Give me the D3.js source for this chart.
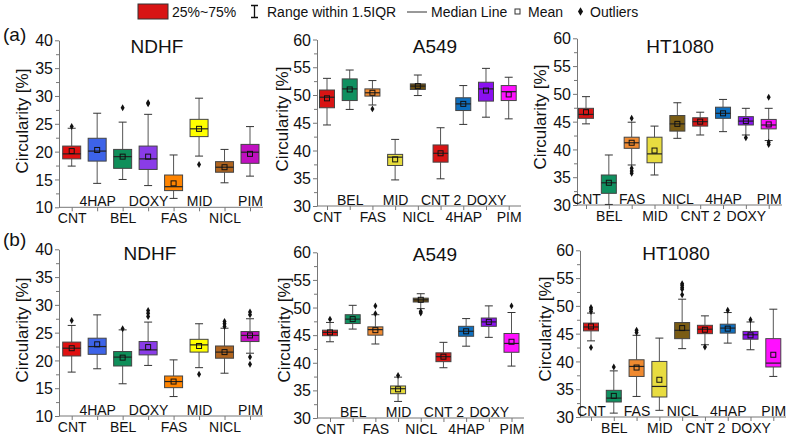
<!DOCTYPE html>
<html>
<head>
<meta charset="utf-8">
<script src="https://cdn.jsdelivr.net/npm/d3@7"></script>
<style>
body { margin: 0; background: #fff; }
text { font-family: Arial, "Liberation Sans", sans-serif; fill: #111; }
</style>
</head>
<body>
<svg id="chart" width="791" height="438"></svg>
<script>
// categories
const catsNDHF = ["CNT", "4HAP", "BEL", "DOXY", "FAS", "MID", "NICL", "PIM"];
const catsCell = ["CNT", "BEL", "FAS", "MID", "NICL", "CNT 2", "4HAP", "DOXY", "PIM"];

// box stats per category: [low whisker, Q1, median, Q3, high whisker, mean]
const ndhfA = [
  [17.4, 18.7, 19.6, 21.0, 24.2, 20.1],
  [14.3, 18.3, 20.1, 22.4, 26.9, 20.3],
  [15.0, 17.0, 19.1, 20.4, 25.3, 19.1],
  [13.9, 16.8, 18.7, 21.0, 26.7, 19.1],
  [11.6, 13.0, 13.7, 15.8, 19.4, 14.3],
  [19.2, 22.7, 24.1, 25.8, 29.6, 24.1],
  [14.4, 16.3, 17.2, 18.2, 20.4, 17.2],
  [15.6, 17.9, 19.9, 21.3, 24.5, 19.6]
];
const ndhfAOut = [[24.5], [], [27.9], [28.6, 28.8], [], [17.7], [], []];

const a549A = [
  [44.6, 47.7, 49.6, 50.9, 53.0, 49.4],
  [47.4, 49.0, 51.1, 52.9, 54.5, 51.0],
  [48.2, 49.8, 50.4, 51.1, 52.6, 50.4],
  [34.7, 37.3, 38.8, 39.3, 42.0, 38.4],
  [49.9, 51.0, 51.6, 52.0, 53.6, 51.6],
  [34.9, 37.9, 39.5, 41.0, 44.1, 39.5],
  [44.7, 47.2, 48.4, 49.5, 51.7, 48.4],
  [46.0, 48.9, 51.1, 52.3, 54.8, 50.8],
  [45.7, 49.0, 50.6, 51.7, 53.2, 50.1]
];
const a549AOut = [[], [], [47.5], [], [], [], [], [], []];

const htA = [
  [44.6, 45.6, 46.3, 47.4, 49.5, 46.7],
  [30.1, 32.1, 34.0, 35.4, 39.0, 34.0],
  [37.2, 40.2, 41.2, 42.2, 44.9, 41.2],
  [35.4, 37.6, 39.2, 42.2, 44.2, 39.8],
  [42.0, 43.3, 44.6, 46.1, 48.4, 44.6],
  [42.6, 44.2, 45.0, 45.7, 46.7, 45.0],
  [43.2, 45.6, 46.5, 47.6, 49.0, 46.5],
  [42.6, 44.4, 45.1, 45.9, 47.4, 45.1],
  [41.6, 43.7, 44.4, 45.4, 47.4, 44.5]
];
const htAOut = [[], [], [45.6, 36.6, 36.1, 35.7], [], [], [], [], [42.1], [49.4, 41.3, 40.9]];

const ndhfB = [
  [17.9, 20.8, 22.2, 23.3, 26.3, 22.2],
  [18.5, 21.1, 22.5, 24.0, 28.2, 22.9],
  [15.8, 19.0, 20.6, 21.6, 25.5, 20.5],
  [19.1, 21.0, 21.9, 23.4, 26.9, 22.4],
  [13.5, 15.1, 16.2, 17.2, 20.1, 16.2],
  [18.7, 21.5, 22.8, 23.8, 26.6, 22.6],
  [17.7, 20.4, 21.5, 22.6, 25.8, 21.5],
  [21.3, 23.4, 24.5, 25.2, 27.5, 24.5]
];
const ndhfBOut = [[27.2], [], [25.7], [29.0, 28.5, 27.9], [], [17.5], [27.0, 26.6, 26.1], [28.7, 28.2, 20.6, 19.3]];

const a549B = [
  [43.8, 44.9, 45.5, 45.9, 47.3, 45.5],
  [46.1, 47.1, 47.9, 48.7, 50.4, 47.9],
  [43.4, 45.0, 46.0, 46.5, 48.7, 45.9],
  [33.0, 34.4, 35.3, 35.8, 37.4, 35.2],
  [49.8, 51.0, 51.4, 51.7, 52.5, 51.4],
  [39.1, 40.2, 41.1, 41.8, 43.7, 41.1],
  [43.0, 44.8, 45.7, 46.6, 48.0, 45.7],
  [44.6, 46.6, 47.4, 48.1, 50.3, 47.4],
  [39.4, 41.9, 43.5, 45.3, 49.1, 43.8]
];
const a549BOut = [[47.9], [], [50.3, 48.9], [37.7], [49.3, 49.0], [], [], [], [50.3]];

const htB = [
  [43.7, 45.5, 46.2, 46.9, 48.7, 46.3],
  [30.7, 32.7, 33.4, 34.8, 38.3, 33.8],
  [33.7, 37.3, 39.1, 40.3, 44.7, 38.9],
  [31.2, 33.6, 35.5, 40.0, 44.2, 36.7],
  [42.3, 44.1, 45.6, 47.0, 51.2, 46.0],
  [43.0, 45.0, 45.8, 46.5, 48.2, 45.7],
  [43.3, 45.1, 46.0, 46.7, 48.8, 45.9],
  [42.1, 44.0, 44.8, 45.4, 47.1, 44.7],
  [37.3, 39.0, 39.7, 44.1, 49.4, 41.2]
];
const htBOut = [[49.7, 49.4, 49.0, 42.5], [39.0], [45.6, 45.2], [], [54.0, 53.7, 53.3, 53.0, 52.0], [42.6], [49.2], [47.5], []];

// colours
const colNDHF = ["#e01010", "#3d63e8", "#0f8f5a", "#8a3ce8", "#ff8400", "#ffff00", "#b0641e", "#c010c0"];
const colA549 = ["#d81414", "#0f9060", "#f08a30", "#e6dc3c", "#6b4e10", "#d81414", "#0f6fbf", "#8a10f0", "#ff10ff"];
const colHT = ["#d81414", "#0f9060", "#f08a30", "#e8dc40", "#7a5c14", "#d81414", "#0f6fbf", "#8a10f0", "#ff10ff"];

const panels = [
  {title: "NDHF", cats: catsNDHF, stats: ndhfA, out: ndhfAOut, col: colNDHF, yDom: [10, 40],
   yTop: 40.3, yBot: 207.3, ax: 59, axEnd: 263, c0: 71.7, c1: 250, bw: 18, tx: 157, ty: 53, lx: 28, ly: 121, upEven: false},
  {title: "A549", cats: catsCell, stats: a549A, out: a549AOut, col: colA549, yDom: [30, 60],
   yTop: 39.5, yBot: 206, ax: 317, axEnd: 521, c0: 327, c1: 508.7, bw: 15, tx: 435, ty: 53, lx: 287.5, ly: 119, upEven: false},
  {title: "HT1080", cats: catsCell, stats: htA, out: htAOut, col: colHT, yDom: [30, 60],
   yTop: 38.3, yBot: 205, ax: 577, axEnd: 782, c0: 586, c1: 768.7, bw: 15, tx: 680, ty: 52.5, lx: 545.5, ly: 117, upEven: true},
  {title: "NDHF", cats: catsNDHF, stats: ndhfB, out: ndhfBOut, col: colNDHF, yDom: [10, 40],
   yTop: 249.3, yBot: 416, ax: 59, axEnd: 263, c0: 71.7, c1: 250, bw: 18, tx: 150, ty: 260, lx: 28, ly: 330, upEven: false},
  {title: "A549", cats: catsCell, stats: a549B, out: a549BOut, col: colA549, yDom: [30, 60],
   yTop: 252.3, yBot: 418, ax: 317, axEnd: 524, c0: 330, c1: 511.5, bw: 15, tx: 435, ty: 261, lx: 289.5, ly: 330, upEven: false},
  {title: "HT1080", cats: catsCell, stats: htB, out: htBOut, col: colHT, yDom: [30, 60],
   yTop: 250.3, yBot: 417, ax: 580, axEnd: 786, c0: 591, c1: 773.3, bw: 15, tx: 676, ty: 260, lx: 550.5, ly: 329, upEven: true}
];

const svg = d3.select("#chart");

panels.forEach(p => {
  const y = d3.scaleLinear().domain(p.yDom).range([p.yBot, p.yTop]);
  const x = d3.scalePoint().domain(p.cats).range([p.c0, p.c1]);
  const g = svg.append("g");

  // y axis, minor then major
  const major = d3.range(p.yDom[0], p.yDom[1] + 0.1, 5);
  const minor = d3.range(p.yDom[0] + 2.5, p.yDom[1], 5);
  g.append("g").attr("transform", `translate(${p.ax},0)`)
    .call(d3.axisLeft(y).tickValues(minor).tickSize(3).tickFormat("").tickSizeOuter(0))
    .call(a => a.select(".domain").remove());
  g.append("g").attr("transform", `translate(${p.ax},0)`)
    .call(d3.axisLeft(y).tickValues(major).tickSize(4).tickPadding(2).tickSizeOuter(0))
    .call(a => a.selectAll("text").style("font-size", "16px").attr("dy", "0.35em"));

  // x axis with staggered labels
  const xg = g.append("g").attr("transform", `translate(0,${p.yBot})`)
    .call(d3.axisBottom(x).tickSize(4).tickSizeOuter(0));
  xg.select(".domain").remove();
  xg.selectAll("text")
    .style("font-size", "14px")
    .attr("dy", 0)
    .attr("y", (d, i) => ((i % 2 === 0) === p.upEven) ? -1.5 : 15.5);
  g.append("line")
    .attr("x1", p.ax).attr("x2", p.axEnd)
    .attr("y1", p.yBot).attr("y2", p.yBot)
    .attr("stroke", "#777");
  g.selectAll(".tick line, .domain").attr("stroke", "#777");

  // boxes
  const bx = g.selectAll(".bx").data(p.stats).join("g").attr("class", "bx")
    .attr("transform", (d, i) => `translate(${x(p.cats[i])},0)`);
  bx.append("line").attr("y1", d => y(d[0])).attr("y2", d => y(d[1]))
    .attr("stroke", "#555");
  bx.append("line").attr("y1", d => y(d[3])).attr("y2", d => y(d[4]))
    .attr("stroke", "#555");
  bx.append("line").attr("x1", -4).attr("x2", 4).attr("y1", d => y(d[0])).attr("y2", d => y(d[0]))
    .attr("stroke", "#333");
  bx.append("line").attr("x1", -4).attr("x2", 4).attr("y1", d => y(d[4])).attr("y2", d => y(d[4]))
    .attr("stroke", "#333");
  bx.append("rect")
    .attr("x", -p.bw / 2).attr("width", p.bw)
    .attr("y", d => y(d[3])).attr("height", d => y(d[1]) - y(d[3]))
    .attr("fill", (d, i) => p.col[i])
    .attr("stroke", "#444").attr("stroke-width", 1);
  bx.append("line").attr("x1", -p.bw / 2).attr("x2", p.bw / 2)
    .attr("y1", d => y(d[2])).attr("y2", d => y(d[2]))
    .attr("stroke", "#222").attr("stroke-width", 1.2);
  bx.append("rect")
    .attr("x", -2.5).attr("width", 5).attr("height", 5)
    .attr("y", d => y(d[5]) - 2.5)
    .attr("fill", "none").attr("stroke", "#111").attr("stroke-width", 1);

  // outliers
  const pts = [];
  p.out.forEach((arr, i) => arr.forEach(v => pts.push({c: p.cats[i], v})));
  g.selectAll(".ol").data(pts).join("path").attr("class", "ol")
    .attr("d", d3.symbol(d3.symbolDiamond, 14))
    .attr("transform", d => `translate(${x(d.c)},${y(d.v)})`)
    .attr("fill", "#111");

  // titles
  g.append("text").attr("x", p.tx).attr("y", p.ty).attr("text-anchor", "middle")
    .style("font-size", "19px").text(p.title);
  g.append("text").attr("transform", `translate(${p.lx},${p.ly}) rotate(-90)`)
    .attr("text-anchor", "middle").style("font-size", "17px").text("Circularity [%]");
});

// panel letters
svg.append("text").attr("x", 3).attr("y", 41).style("font-size", "19px").text("(a)");
svg.append("text").attr("x", 3).attr("y", 246).style("font-size", "19px").text("(b)");

// legend
const lg = svg.append("g").style("font-size", "14px");
lg.append("rect").attr("x", 138).attr("y", 4).attr("width", 30).attr("height", 15)
  .attr("fill", "#d81414").attr("stroke", "#333");
lg.append("text").attr("x", 172).attr("y", 17).text("25%~75%");
lg.append("path").attr("d", "M251,5.5H258M254.5,5.5V17.5M251,17.5H258").attr("stroke", "#111").attr("fill", "none").attr("stroke-width", 1.3);
lg.append("text").attr("x", 267).attr("y", 17).text("Range within 1.5IQR");
lg.append("line").attr("x1", 407).attr("x2", 427).attr("y1", 12).attr("y2", 12).attr("stroke", "#333");
lg.append("text").attr("x", 431).attr("y", 17).text("Median Line");
lg.append("rect").attr("x", 515).attr("y", 9).attr("width", 5).attr("height", 5)
  .attr("fill", "#fff").attr("stroke", "#333");
lg.append("text").attr("x", 528).attr("y", 17).text("Mean");
lg.append("path").attr("d", d3.symbol(d3.symbolDiamond, 22)).attr("transform", "translate(580.5,11.5)").attr("fill", "#111");
lg.append("text").attr("x", 590).attr("y", 17).text("Outliers");
</script>
</body>
</html>
